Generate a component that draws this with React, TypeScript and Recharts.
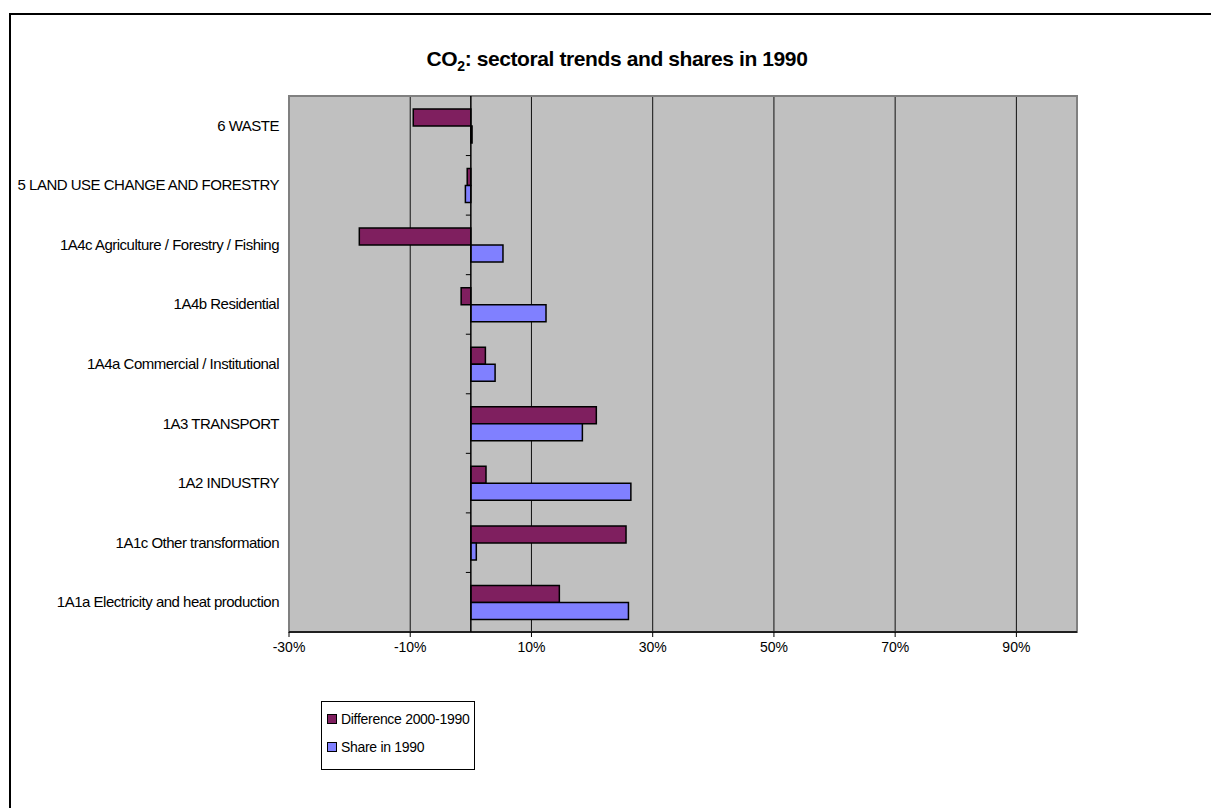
import React from "react";
import {
  BarChart,
  Bar,
  XAxis,
  YAxis,
  CartesianGrid,
  ReferenceArea,
  ReferenceLine,
  Legend,
} from "recharts";

const sectors = [
  "6 WASTE",
  "5 LAND USE CHANGE AND FORESTRY",
  "1A4c Agriculture / Forestry / Fishing",
  "1A4b Residential",
  "1A4a Commercial / Institutional",
  "1A3 TRANSPORT",
  "1A2 INDUSTRY ",
  "1A1c Other transformation",
  "1A1a Electricity and heat production",
];

// percentages
const difference = [-9.5, -0.6, -18.4, -1.6, 2.4, 20.7, 2.5, 25.6, 14.6];
const share1990 = [0.2, -0.9, 5.3, 12.4, 4.0, 18.4, 26.4, 0.9, 26.0];

const xTicks = [-30, -10, 10, 30, 50, 70, 90];

const seriesNames = ["Difference 2000-1990", "Share in 1990"];
const seriesColors = ["#7f1f5f", "#8080ff"];

const data = sectors.map((name, i) => ({
  name,
  diff: difference[i],
  share: share1990[i],
}));

const FONT = "Arial, 'Liberation Sans', sans-serif";

const CategoryTick = (props: any) => {
  const { x, y, payload } = props;
  return (
    <text
      x={x}
      y={y}
      dy={5}
      textAnchor="end"
      fontFamily={FONT}
      fontSize={15}
      letterSpacing={-0.5}
      fill="#000"
    >
      {payload.value}
    </text>
  );
};

// zero line with the category tick marks sitting on it
const ZeroLine = (props: any) => {
  const { x1, y1, y2 } = props;
  const n = sectors.length;
  const step = (y2 - y1) / n;
  const marks = [];
  for (let i = 1; i < n; i++) {
    const yy = y1 + step * i;
    marks.push(
      <line key={i} x1={x1 - 5} x2={x1} y1={yy} y2={yy} stroke="#000" strokeWidth={1} />
    );
  }
  return (
    <g>
      <line x1={x1} x2={x1} y1={y1} y2={y2} stroke="#000" strokeWidth={1.5} />
      {marks}
    </g>
  );
};

const LegendBox = () => (
  <div
    style={{
      border: "1px solid #000",
      background: "#fff",
      width: 154,
      height: 69,
      boxSizing: "border-box",
      padding: "3px 0 0 5px",
      fontFamily: FONT,
      fontSize: 14,
      letterSpacing: -0.3,
      color: "#000",
    }}
  >
    {seriesNames.map((n, i) => (
      <div key={n} style={{ display: "flex", alignItems: "center", height: 28 }}>
        <span
          style={{
            display: "inline-block",
            width: 8,
            height: 8,
            background: seriesColors[i],
            border: "1px solid #000",
            marginRight: 4,
          }}
        />
        {n}
      </div>
    ))}
  </div>
);

export default function App() {
  return (
    <div style={{ position: "fixed", inset: 0, overflow: "hidden", background: "#fff" }}>
      <div
        style={{
          position: "absolute",
          left: 9,
          top: 13,
          width: 1400,
          height: 1000,
          border: "2px solid #000",
          boxSizing: "border-box",
        }}
      />
      <div
        style={{
          position: "absolute",
          left: 0,
          top: 47,
          width: 1234,
          textAlign: "center",
          fontFamily: FONT,
          fontWeight: "bold",
          fontSize: 21,
          letterSpacing: -0.4,
          color: "#000",
        }}
      >
        CO<sub style={{ fontSize: 14, verticalAlign: -5 }}>2</sub>: sectoral trends and shares in 1990
      </div>
      <div style={{ position: "absolute", left: 0, top: 0 }}>
        <BarChart
          width={1211}
          height={808}
          data={data}
          layout="vertical"
          margin={{ top: 96, right: 134, bottom: 146, left: 0 }}
          barSize={17}
          barGap={0}
        >
          <CartesianGrid
            horizontal={false}
            fill="#c0c0c0"
            fillOpacity={1}
            stroke="#111"
            strokeWidth={1}
          />
          <ReferenceArea
            x1={-30}
            x2={100}
            fill="none"
            stroke="#808080"
            strokeWidth={2}
          />
          <XAxis
            type="number"
            domain={[-30, 100]}
            ticks={xTicks}
            tickFormatter={(v) => `${v}%`}
            axisLine={{ stroke: "#000", strokeWidth: 1.5 }}
            tickLine={{ stroke: "#000" }}
            tickSize={5}
            tickMargin={5}
            height={30}
            tick={{ fontSize: 14, fill: "#000", fontFamily: FONT }}
          />
          <YAxis
            type="category"
            dataKey="name"
            width={289}
            axisLine={false}
            tickLine={false}
            tickSize={0}
            tickMargin={10}
            tick={<CategoryTick />}
            interval={0}
          />
          <ReferenceLine x={0} shape={<ZeroLine />} />
          <Bar
            dataKey="diff"
            name={seriesNames[0]}
            fill={seriesColors[0]}
            stroke="#000"
            strokeWidth={1.5}
            isAnimationActive={false}
          />
          <Bar
            dataKey="share"
            name={seriesNames[1]}
            fill={seriesColors[1]}
            stroke="#000"
            strokeWidth={1.5}
            isAnimationActive={false}
          />
          <Legend
            layout="vertical"
            align="center"
            verticalAlign="middle"
            content={<LegendBox />}
            wrapperStyle={{ position: "absolute", left: 321, top: 701, width: 154, height: 69 }}
          />
        </BarChart>
      </div>
    </div>
  );
}
